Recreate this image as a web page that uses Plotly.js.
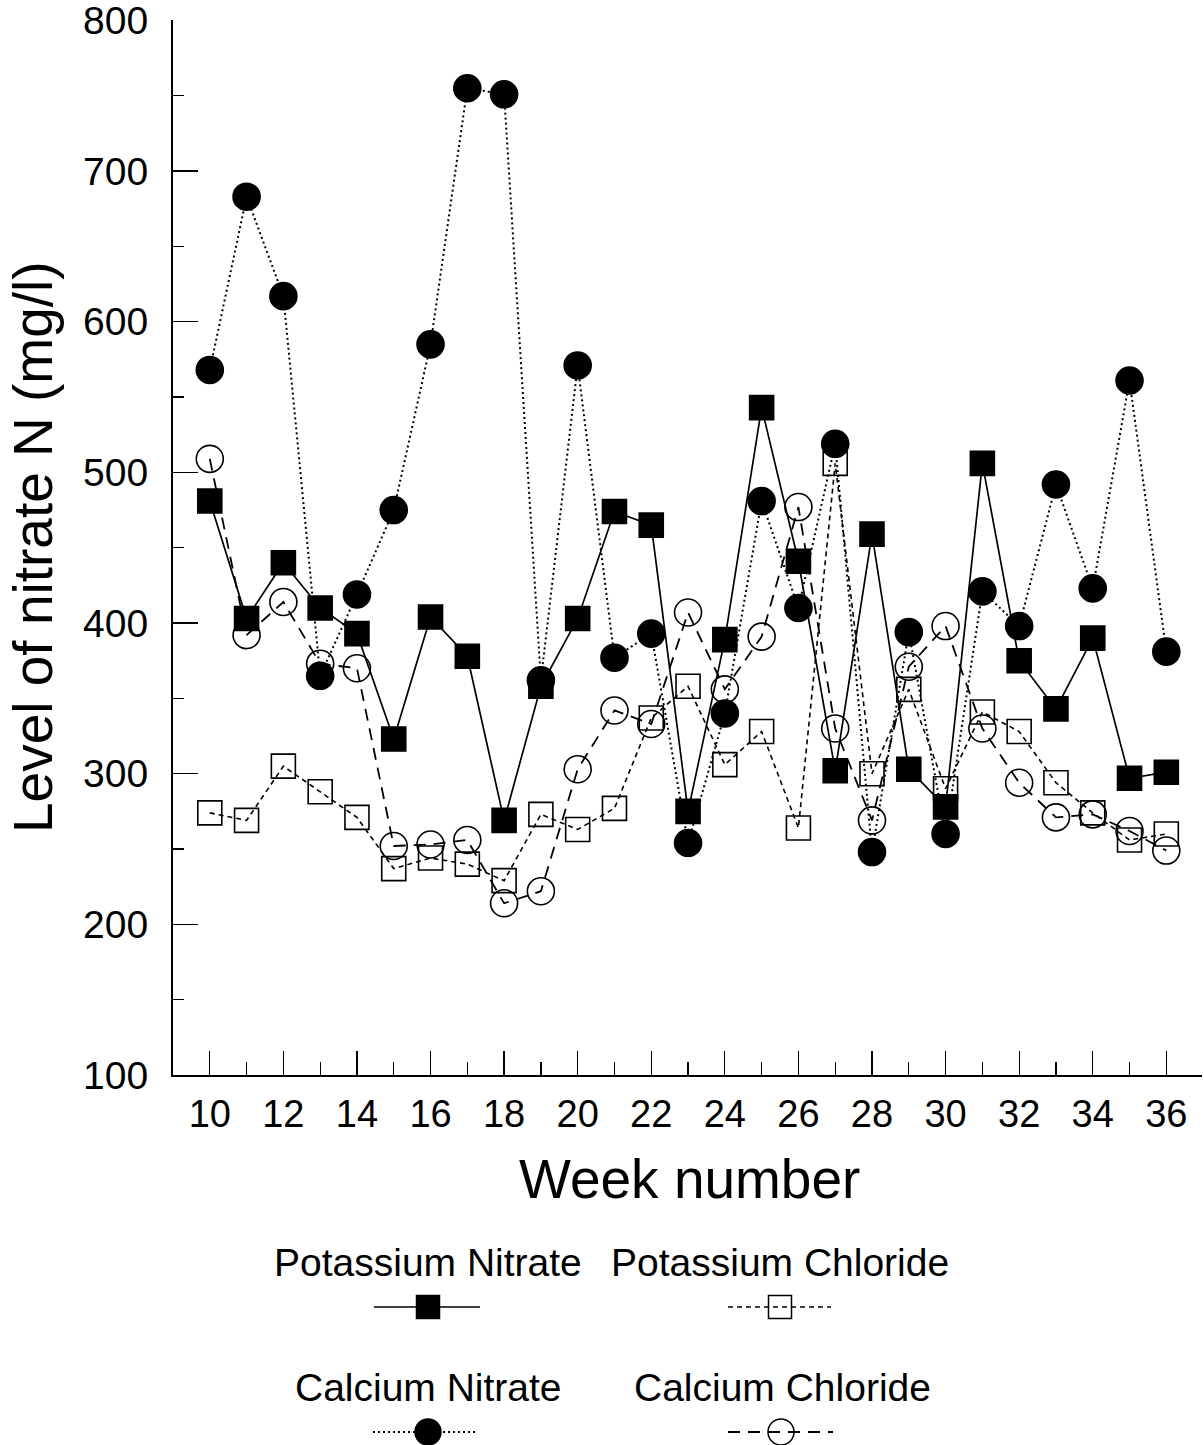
<!DOCTYPE html>
<html>
<head>
<meta charset="utf-8">
<script src="https://cdn.plot.ly/plotly-3.0.1.min.js"></script>
<style>
  html, body { margin: 0; padding: 0; background: #fff; }
  #chart { width: 1204px; height: 1445px; }
</style>
</head>
<body>
<div id="chart"></div>
<script>
// Weekly nitrate N levels (mg/l) for four fertiliser treatments
const weeks = [10, 11, 12, 13, 14, 15, 16, 17, 18, 19, 20, 21, 22, 23, 24, 25, 26, 27, 28, 29, 30, 31, 32, 33, 34, 35, 36];
const potassiumNitrate  = [481, 403, 440, 410, 393, 323, 404, 378, 269, 358, 403, 474, 465, 275, 389, 543, 441, 302, 459, 303, 278, 506, 375, 343, 390, 297, 301];
const potassiumChloride = [274, 269, 305, 288, 271, 237, 244, 240, 229, 273, 263, 277, 337, 358, 306, 328, 264, 506, 300, 356, 290, 341, 328, 294, 274, 256, 260];
const calciumNitrate    = [568, 683, 617, 365, 419, 475, 585, 755, 751, 362, 571, 377, 393, 254, 340, 481, 410, 519, 248, 394, 260, 421, 398, 492, 423, 561, 381];
const calciumChloride   = [509, 392, 414, 373, 370, 252, 253, 256, 214, 222, 303, 342, 333, 407, 356, 391, 477, 330, 269, 371, 398, 330, 294, 271, 273, 262, 249];

const seriesNames = ['Potassium Nitrate', 'Potassium Chloride', 'Calcium Nitrate', 'Calcium Chloride'];
const yTickVals = [100, 200, 300, 400, 500, 600, 700, 800];
const xTickVals = [10, 12, 14, 16, 18, 20, 22, 24, 26, 28, 30, 32, 34, 36];

const W = 1204, H = 1445;
const FONT = 'Liberation Sans, Arial, Helvetica, sans-serif';

// visual style of each treatment
const styles = [
  { symbol: 'square',       size: 24, dash: 'solid',     lw: 1.7 },
  { symbol: 'square-open',  size: 24, dash: '5px,4px',   lw: 1.6 },
  { symbol: 'circle',       size: 27, dash: '2px,3px',   lw: 2.0 },
  { symbol: 'circle-open',  size: 27, dash: '12px,8px',  lw: 1.8 }
];
const values = [potassiumNitrate, potassiumChloride, calciumNitrate, calciumChloride];

// draw the open/dashed series first, filled ones on top
const drawOrder = [1, 3, 0, 2];
const traces = drawOrder.map(i => ({
  type: 'scatter',
  mode: 'lines+markers',
  name: seriesNames[i],
  x: weeks,
  y: values[i],
  xaxis: 'x', yaxis: 'y',
  line: { color: '#000', width: styles[i].lw, dash: styles[i].dash },
  marker: {
    symbol: styles[i].symbol,
    size: styles[i].size,
    color: '#000',
    line: { color: '#000', width: 1.6 }
  },
  cliponaxis: false,
  showlegend: false
}));

// key below the chart, drawn on a pixel-sized overlay axis
const keyItems = [
  { i: 0, cx: 428, cy: 1307, x0: 374, x1: 480, tx: 428, ty: 1262 },
  { i: 1, cx: 780, cy: 1307, x0: 728, x1: 831, tx: 780, ty: 1262 },
  { i: 2, cx: 428, cy: 1432, x0: 373, x1: 478, tx: 428, ty: 1387 },
  { i: 3, cx: 781, cy: 1432, x0: 728, x1: 833, tx: 782, ty: 1387 }
];
keyItems.forEach(k => {
  const s = styles[k.i];
  traces.push({
    type: 'scatter', mode: 'lines',
    x: [k.x0, k.x1], y: [k.cy, k.cy],
    xaxis: 'x2', yaxis: 'y2',
    line: { color: '#000', width: s.lw, dash: s.dash },
    showlegend: false, hoverinfo: 'skip'
  });
  traces.push({
    type: 'scatter', mode: 'markers',
    x: [k.cx], y: [k.cy],
    xaxis: 'x2', yaxis: 'y2',
    marker: { symbol: s.symbol, size: s.size - 1, color: '#000',
              line: { color: '#000', width: 1.5 } },
    showlegend: false, hoverinfo: 'skip'
  });
});

const annotations = keyItems.map(k => ({
  xref: 'x2', yref: 'y2', x: k.tx, y: k.ty,
  text: seriesNames[k.i], showarrow: false,
  xanchor: 'center', yanchor: 'middle',
  font: { family: FONT, size: 39, color: '#000' }
}));

// axis titles
annotations.push({
  xref: 'x2', yref: 'y2', x: 689, y: 1179,
  text: 'Week number', showarrow: false,
  xanchor: 'center', yanchor: 'middle',
  font: { family: FONT, size: 55, color: '#000' }
});
annotations.push({
  xref: 'x2', yref: 'y2', x: 33, y: 547,
  text: 'Level of nitrate N (mg/l)', showarrow: false, textangle: -90,
  xanchor: 'center', yanchor: 'middle',
  font: { family: FONT, size: 55, color: '#000' }
});

const layout = {
  width: W, height: H,
  margin: { l: 0, r: 0, t: 0, b: 0 },
  paper_bgcolor: '#fff', plot_bgcolor: 'rgba(0,0,0,0)',
  showlegend: false,
  font: { family: FONT, color: '#000' },
  xaxis: {
    domain: [173 / W, 1202 / W],
    range: [9, 36.97],
    tickmode: 'array', tickvals: xTickVals, ticktext: xTickVals.map(String),
    ticks: 'inside', ticklen: 24, tickwidth: 1.3, tickcolor: '#000',
    minor: { dtick: 1, tick0: 9, ticks: 'inside', ticklen: 13, tickwidth: 1.3, tickcolor: '#000' },
    ticklabelstandoff: 4,
    ticklabeloverflow: 'allow',
    tickfont: { family: FONT, size: 38, color: '#000' },
    showline: true, linecolor: '#000', linewidth: 2,
    showgrid: false, zeroline: false,
    anchor: 'y'
  },
  yaxis: {
    domain: [(H - 1075) / H, (H - 20) / H],
    range: [100, 800.3],
    tickmode: 'array', tickvals: yTickVals, ticktext: yTickVals.map(String),
    ticks: 'inside', ticklen: 25, tickwidth: 1.3, tickcolor: '#000',
    minor: { dtick: 50, tick0: 100, ticks: 'inside', ticklen: 11, tickwidth: 1.3, tickcolor: '#000' },
    ticklabelstandoff: 15,
    ticklabeloverflow: 'allow',
    tickfont: { family: FONT, size: 39, color: '#000' },
    showline: true, linecolor: '#000', linewidth: 2,
    showgrid: false, zeroline: false,
    anchor: 'x'
  },
  xaxis2: { domain: [0, 1], range: [0, W], visible: false, fixedrange: true, anchor: 'y2' },
  yaxis2: { domain: [0, 1], range: [H, 0], visible: false, fixedrange: true, anchor: 'x2' },
  annotations: annotations
};

Plotly.newPlot('chart', traces, layout, { displayModeBar: false, staticPlot: true });
</script>
</body>
</html>
